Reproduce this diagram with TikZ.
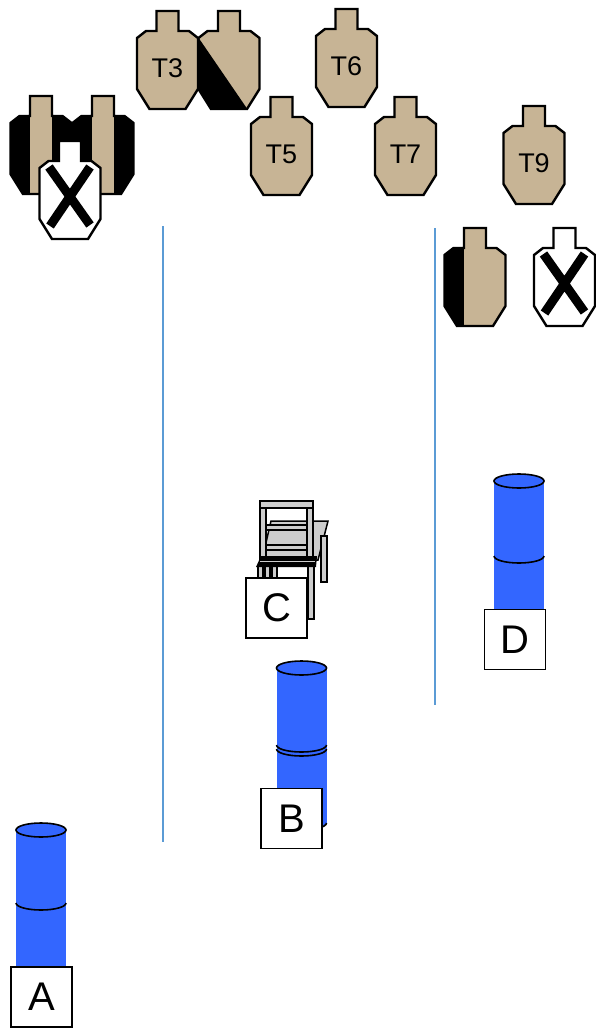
\documentclass[tikz,border=0pt]{standalone}
\usepackage{fontspec}
\setmainfont{Liberation Sans}
\definecolor{tgttan}{RGB}{199,180,149}
\definecolor{drum}{RGB}{51,102,255}
\definecolor{fault}{RGB}{91,155,213}
\definecolor{chairgray}{RGB}{205,205,205}
% silhouette target outline, origin at the top centre of the head
\newcommand{\silh}{(-11,0) -- (11,0) -- (11,20) -- (21.5,20) -- (30.5,27) -- (30.5,78) -- (18,98) -- (-18,98) -- (-30.5,78) -- (-30.5,27) -- (-21.5,20) -- (-11,20) -- cycle}
\tikzset{
  tgtline/.style={line width=2.4pt, line join=miter},
  tgtlabel/.style={font=\fontsize{27}{27}\selectfont, inner sep=0pt},
  poslabel/.style={draw, line width=1.2pt, fill=white, minimum width=61pt, minimum height=60pt, inner sep=0pt, font=\fontsize{40}{40}\selectfont},
  faultline/.style={draw=fault, line width=1.4pt},
  chairpart/.style={fill=chairgray, draw=black, line width=1.5pt},
  ring/.style={line width=1.6pt}
}
% plain tan target with a label
\newcommand{\tantarget}[4]{%
  \begin{scope}[shift={(#1,#2)}]
    \fill[tgttan] \silh; \draw[tgtline] \silh;
    \node[tgtlabel] (#3) at (0,57) {#4};
  \end{scope}}
% no-shoot target: white with a black cross
\newcommand{\noshoot}[2]{%
  \begin{scope}[shift={(#1,#2)}]
    \fill[white] \silh;
    \draw[line width=9pt] (-21,26) -- (20,84) (20,26) -- (-20,85);
    \draw[tgtline] \silh;
  \end{scope}}
% black target with a tan stripe
\newcommand{\stripetarget}[2]{%
  \begin{scope}[shift={(#1,#2)}]
    \fill[black] \silh;
    \begin{scope} \clip \silh; \fill[tgttan] (-11,-2) rectangle (11,100); \end{scope}
    \draw[tgtline] \silh;
  \end{scope}}
% barrel: centre x, top y, ring y, bottom y
\newcommand{\barrel}[4]{%
  \fill[drum] (#1-25,#2) rectangle (#1+25,#4);
  \fill[drum] (#1,#4) ellipse [x radius=25pt, y radius=7pt];
  \draw[ring] (#1,#4) ++(-25,0) arc[start angle=180, end angle=360, x radius=25pt, y radius=7pt];
  \draw[ring] (#1,#3) ++(-25,0) arc[start angle=180, end angle=360, x radius=25pt, y radius=7pt];
  \draw[ring, fill=drum] (#1,#2) ellipse [x radius=25pt, y radius=7pt];}
\begin{document}
\begin{tikzpicture}[x=1pt,y=-1pt]
\useasboundingbox (0,0) rectangle (595,1028);

% fault lines
\coordinate (f1a) at (163,226); \coordinate (f1b) at (163,842);
\coordinate (f2a) at (435,228); \coordinate (f2b) at (435,705);
\draw[faultline] (f1a) -- (f1b);
\draw[faultline] (f2a) -- (f2b);

% targets across the back
\tantarget{167.5}{11}{t3}{T3}
\begin{scope}[shift={(229,11)}]
  \fill[tgttan] \silh;
  \begin{scope} \clip \silh; \fill[black] (-31,26) -- (19,99) -- (-40,110) -- cycle; \end{scope}
  \draw[tgtline] \silh;
\end{scope}
\tantarget{281.5}{97}{t5}{T5}
\tantarget{346.5}{9}{t6}{T6}
\tantarget{405.5}{97}{t7}{T7}
\tantarget{534}{106}{t9}{T9}

% left cluster
\stripetarget{41}{96}
\stripetarget{103}{96}
\noshoot{70}{141}

% right pair
\begin{scope}[shift={(475,228)}]
  \fill[tgttan] \silh;
  \begin{scope} \clip \silh; \fill[black] (-40,-2) rectangle (-11,102); \end{scope}
  \draw[tgtline] \silh;
\end{scope}
\noshoot{564.5}{228}

% table and chair
\draw[chairpart] (271,521) -- (328,521) -- (318,560) -- (262,560) -- cycle;
\draw[chairpart] (321,536) rectangle (327,582);
\draw[chairpart] (308,566) rectangle (314,619);
\draw[chairpart] (258,566) rectangle (263,582);
\draw[chairpart] (265,566) rectangle (270,582);
\draw[chairpart] (272,566) rectangle (277,582);
\draw[chairpart] (260,501) rectangle (266,560);
\draw[chairpart] (307,501) rectangle (313,560);
\draw[chairpart] (260,501) rectangle (313,508);
\draw[chairpart] (266,525) rectangle (307,530);
\draw[chairpart] (266,545) rectangle (307,550);
\fill[black] (261,556) -- (317,556) -- (316,567) -- (256,567) -- cycle;
\draw[chairgray, line width=0.8pt] (260,561.5) -- (315,561.5);

% barrels
\barrel{41}{830}{903}{990}
\barrel{301.5}{668}{745}{823}
\draw[ring] (301.5,749) ++(-25,0) arc[start angle=180, end angle=360, x radius=25pt, y radius=7pt];
\barrel{519}{481}{556}{630}

% position labels
\node[poslabel] (posA) at (41.5,997) {A};
\node[poslabel] (posB) at (291.5,818.5) {B};
\node[poslabel] (posC) at (276.5,608) {C};
\node[poslabel] (posD) at (515,639.5) {D};
\end{tikzpicture}
\end{document}
